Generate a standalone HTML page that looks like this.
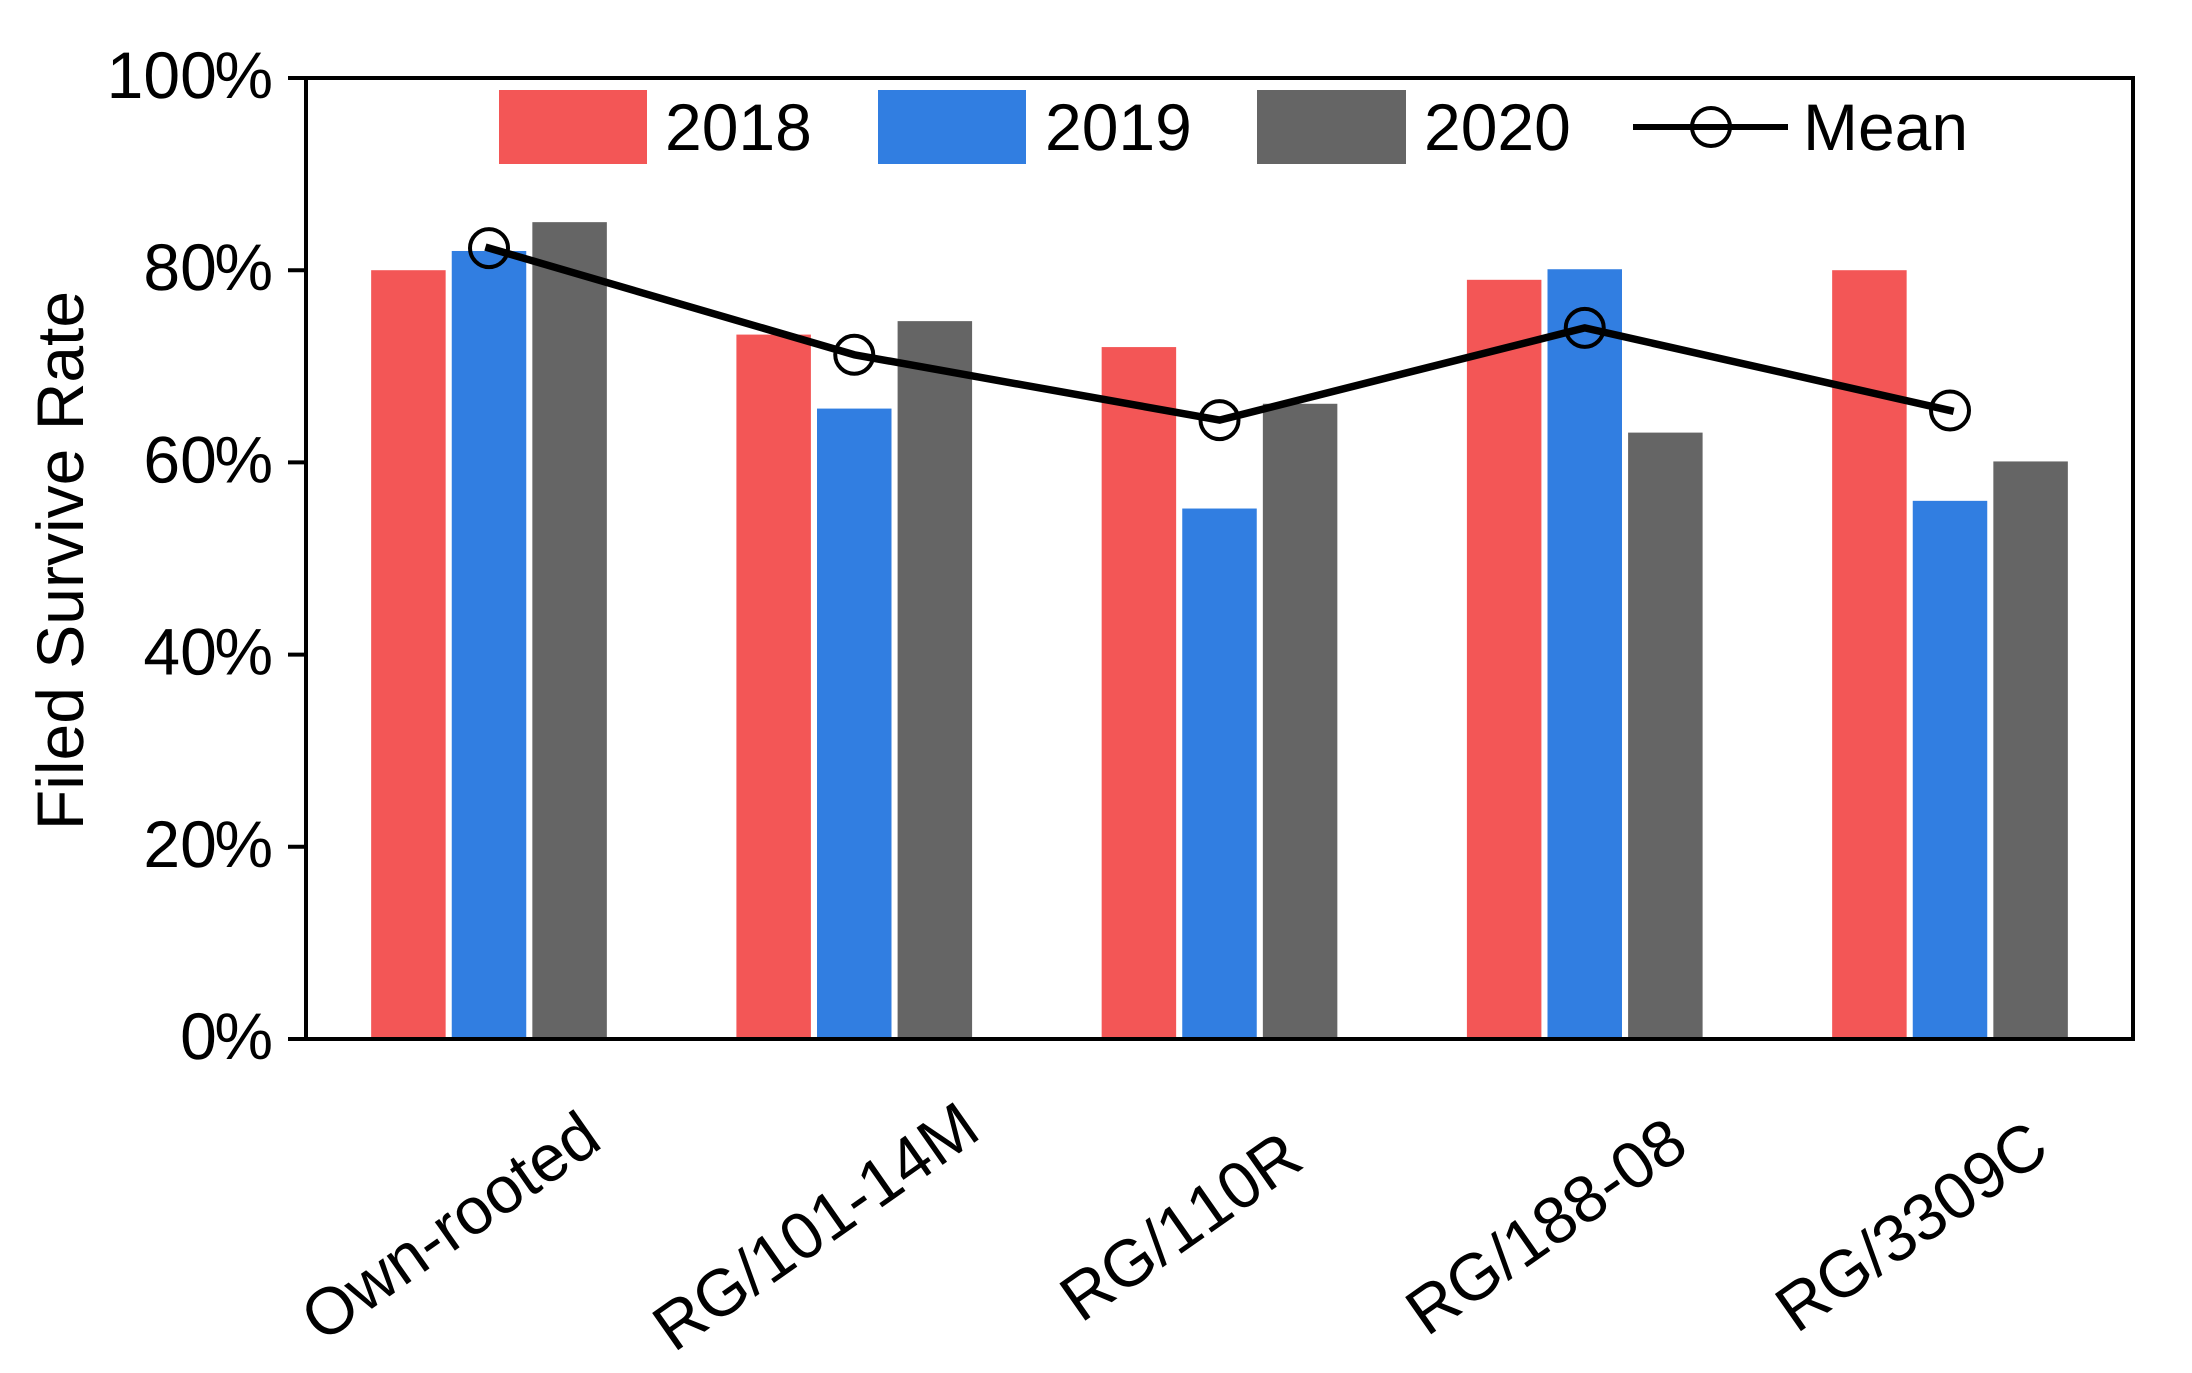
<!DOCTYPE html>
<html lang="en">
<head>
<meta charset="utf-8">
<title>Filed Survive Rate by Rootstock</title>
<style>
  html, body { margin: 0; padding: 0; background: #ffffff; }
  svg { display: block; }
  text { font-family: "Liberation Sans", Arial, sans-serif; font-size: 66px; fill: #000000; font-kerning: none; text-rendering: geometricPrecision; }
</style>
</head>
<body>
<svg id="chart" xmlns="http://www.w3.org/2000/svg" width="2192" height="1373" viewBox="0 0 2192 1373">
  <rect x="0" y="0" width="2192" height="1373" fill="#ffffff"/>
  <g id="bars"></g>
  <g id="mean-series"></g>
  <rect x="306" y="78" width="1827" height="961" fill="none" stroke="#000000" stroke-width="4"/>
  <g id="y-axis"></g>
  <g id="x-axis"></g>
  <text transform="translate(83 560.5) rotate(-90)" text-anchor="middle">Filed Survive Rate</text>
  <g>
    <g>
      <rect x="499" y="90" width="148" height="74" fill="#f35656"/>
      <text x="665" y="150">2018</text>
    </g>
    <g>
      <rect x="878" y="90" width="148" height="74" fill="#317ee1"/>
      <text x="1045" y="150">2019</text>
    </g>
    <g>
      <rect x="1257" y="90" width="149" height="74" fill="#656565"/>
      <text x="1424" y="150">2020</text>
    </g>
    <g>
      <line x1="1633" y1="127" x2="1788" y2="127" stroke="#000000" stroke-width="6"/>
      <circle cx="1711" cy="127" r="19" fill="none" stroke="#000000" stroke-width="4"/>
      <text x="1803" y="150">Mean</text>
    </g>
  </g>
</svg>
<script>
const categories = ["Own-rooted", "RG/101-14M", "RG/110R", "RG/188-08", "RG/3309C"];
const values2018 = [80, 73.3, 72, 79, 80];
const values2019 = [82, 65.6, 55.2, 80.1, 56];
const values2020 = [85, 74.7, 66.1, 63.1, 60.1];
const valuesMean = [82.3, 71.2, 64.4, 74, 65.4];
const yTicks = [0, 20, 40, 60, 80, 100];
const yTickLabels = ["0%", "20%", "40%", "60%", "80%", "100%"];

const SVG_NS = "http://www.w3.org/2000/svg";
const plotLeft = 306, plotRight = 2133, plotTop = 78, plotBottom = 1039;
const groupStep = 365.25, barWidth = 74.5, barStep = 80.6;

function xScale(i) {
  const first = plotLeft + (plotRight - plotLeft - groupStep * (categories.length - 1)) / 2;
  return first + i * groupStep;
}
function yScale(v) {
  return plotBottom - (v / 100) * (plotBottom - plotTop);
}
function make(tag, attrs, parent) {
  const el = document.createElementNS(SVG_NS, tag);
  for (const k in attrs) el.setAttribute(k, attrs[k]);
  parent.appendChild(el);
  return el;
}

const barsGroup = document.getElementById("bars");
const seriesYears = ["2018", "2019", "2020"];
const seriesValues = [values2018, values2019, values2020];
const seriesColors = ["#f35656", "#317ee1", "#656565"];
seriesValues.forEach(function (vals, s) {
  vals.forEach(function (v, i) {
    const top = yScale(v);
    const bar = make("rect", {
      x: xScale(i) + (s - 1) * barStep - barWidth / 2,
      y: top,
      width: barWidth,
      height: plotBottom - top,
      fill: seriesColors[s]
    }, barsGroup);
    
    
    bar.setAttribute('aria-label', seriesYears[s] + ' ' + categories[i]);
  });
});

const meanGroup = document.getElementById("mean-series");
const meanLine = make("polyline", {
  points: valuesMean.map(function (v, i) { return xScale(i) + "," + yScale(v); }).join(" "),
  fill: "none",
  stroke: "#000000",
  "stroke-width": 7.5,
  "stroke-linejoin": "round",
  "stroke-linecap": "square"
}, meanGroup);


valuesMean.forEach(function (v, i) {
  const marker = make("circle", {
    cx: xScale(i),
    cy: yScale(v),
    r: 19,
    fill: "none",
    stroke: "#000000",
    "stroke-width": 4
  }, meanGroup);
  
  
});

const yAxis = document.getElementById("y-axis");
yTicks.forEach(function (t, i) {
  const y = yScale(t);
  const tick = make("line", { x1: 288, y1: y, x2: plotLeft, y2: y, stroke: "#000000", "stroke-width": 4 }, yAxis);
  
  
  const text = yTickLabels[i];
  const shifts = text.split("").map(function (ch) { return ch === "%" ? -2.5 : 0; }).join(" ");
  const label = make("text", { x: 273, y: y + 20, dx: shifts, "text-anchor": "end" }, yAxis);
  label.textContent = text;
  
  
});

const xAxis = document.getElementById("x-axis");
categories.forEach(function (c, i) {
  const label = make("text", {
    transform: "translate(" + (xScale(i) - 39) + " 1226) rotate(-35)",
    y: 23,
    "text-anchor": "middle"
  }, xAxis);
  label.textContent = c;
  
  
});
</script>
</body>
</html>
